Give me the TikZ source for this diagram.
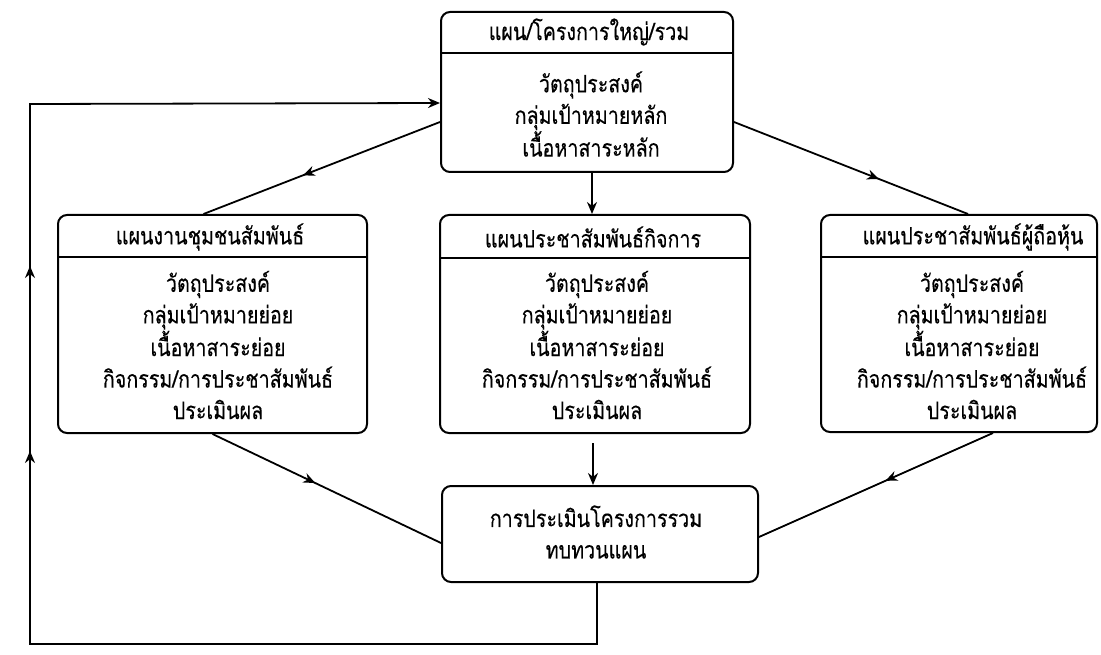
\documentclass[tikz,border=0pt]{standalone}
\usepackage{fontspec}
\newfontfamily\thai[Script=Thai,FakeStretch=0.82,FakeBold=0.3]{Loma}
\usetikzlibrary{arrows.meta,decorations.markings,calc}

\tikzset{
  panel/.style={draw, line width=2pt, rounded corners=9pt, inner sep=0pt},
  divider/.style={line width=1.4pt},
  txt/.style={font=\thai\fontsize{24}{31.5}\selectfont, align=center, inner sep=0pt},
  link/.style={line width=1.8pt},
  tip/.style={-{Stealth[length=12pt,width=10pt]}},
  midarrow/.style={postaction={decorate}, decoration={markings,
      mark=at position #1 with {\arrow{Stealth[length=12pt,width=10pt]}}}}
}

\begin{document}
\begin{tikzpicture}[x=1pt,y=-1pt]
  \fill[white] (0,0) rectangle (1101,655);
  \useasboundingbox (0,0) rectangle (1101,655);

  % the overall plan
  \node[panel, minimum width=292pt, minimum height=160pt] (top) at (587,92) {};
  \draw[divider] (top.west |- 0,53) -- (top.east |- 0,53);
  \node[txt] (topT) at (589,32) {แผน/โครงการใหญ่/รวม};
  \node[txt] (topB) at (591,114) {วัตถุประสงค์\\กลุ่มเป้าหมายหลัก\\เนื้อหาสาระหลัก};

  % community relations plan
  \node[panel, minimum width=309pt, minimum height=218pt] (L) at (212.5,324) {};
  \draw[divider] (L.west |- 0,257) -- (L.east |- 0,257);
  \node[txt] (LT) at (210,237) {แผนงานชุมชนสัมพันธ์};
  \node[txt] (LB) at (218,345) {วัตถุประสงค์\\กลุ่มเป้าหมายย่อย\\เนื้อหาสาระย่อย\\กิจกรรม/การประชาสัมพันธ์\\ประเมินผล};

  % business relations plan
  \node[panel, minimum width=310pt, minimum height=218pt] (M) at (595,324) {};
  \draw[divider] (M.west |- 0,258) -- (M.east |- 0,258);
  \node[txt] (MT) at (593,237) {แผนประชาสัมพันธ์กิจการ};
  \node[txt] (MB) at (597,345) {วัตถุประสงค์\\กลุ่มเป้าหมายย่อย\\เนื้อหาสาระย่อย\\กิจกรรม/การประชาสัมพันธ์\\ประเมินผล};

  % shareholder relations plan
  \node[panel, minimum width=276pt, minimum height=217pt] (R) at (959,323.5) {};
  \draw[divider] (R.west |- 0,257) -- (R.east |- 0,257);
  \node[txt] (RT) at (973,237) {แผนประชาสัมพันธ์ผู้ถือหุ้น};
  \node[txt] (RB) at (972,345) {วัตถุประสงค์\\กลุ่มเป้าหมายย่อย\\เนื้อหาสาระย่อย\\กิจกรรม/การประชาสัมพันธ์\\ประเมินผล};

  % overall evaluation
  \node[panel, minimum width=316pt, minimum height=96pt] (B) at (600,534) {};
  \node[txt] (BT) at (596,532) {การประเมินโครงการรวม\\ทบทวนแผน};

  % connectors from the overall plan
  \draw[link, midarrow=0.58] ($(top.west)+(0,30)$) -- ($(L.north)+(-9,0)$);
  \draw[link, tip] ($(top.south)+(5,0)$) -- ($(M.north)+(-3,0)$);
  \draw[link, midarrow=0.62] ($(top.east)+(0,30)$) -- ($(R.north)+(9,0)$);

  % connectors into the evaluation
  \draw[link, midarrow=0.45] (L.south) -- ($(B.west)+(0,9)$);
  \draw[link, tip] ($(M.south)+(-2,9)$) -- ($(B.north)+(-7,0)$);
  \draw[link, midarrow=0.46] ($(R.south)+(34,0)$) -- ($(B.east)+(0,3)$);

  % feedback loop back to the overall plan
  \draw[link, tip,
        postaction={decorate}, decoration={markings,
          mark=at position 821pt with {\arrow{Stealth[length=12pt,width=10pt]}},
          mark=at position 1006pt with {\arrow{Stealth[length=12pt,width=10pt]}}}]
    ($(B.south)+(-3,0)$) -- ++(0,61) -- ++(-567,0) -- ++(0,-540) -- ($(top.west)+(0,11)$);
\end{tikzpicture}
\end{document}
